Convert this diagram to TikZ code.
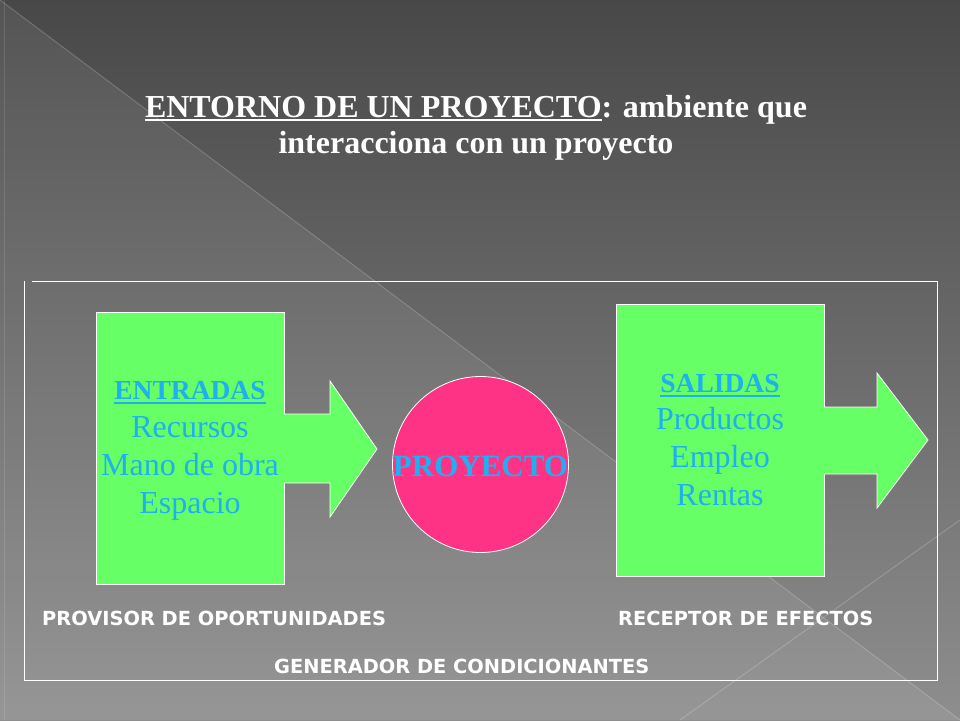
\documentclass[tikz,border=0pt]{standalone}
\usepackage{fontspec}
\setmainfont{Liberation Serif}
\newfontfamily\labfont{DejaVu Sans}
\definecolor{bgtop}{RGB}{72,72,72}
\definecolor{bgbot}{RGB}{142,142,142}
\definecolor{boxgreen}{RGB}{102,255,102}
\definecolor{projpink}{RGB}{255,51,133}
\definecolor{txtblue}{RGB}{30,176,240}
\newcommand\myul[3]{\setbox0\hbox{#3}\rlap{\rule[-#1]{\wd0}{#2}}\box0}
\tikzset{
  titletext/.style={anchor=base, inner sep=0pt, text=white, font=\fontsize{32}{36}\selectfont\bfseries},
  boxhead/.style={anchor=base, inner sep=0pt, text=txtblue, font=\fontsize{27.5}{30}\selectfont\bfseries},
  boxline/.style={anchor=base, inner sep=0pt, text=txtblue, font=\fontsize{32}{36}\selectfont},
  envlabel/.style={anchor=base west, inner sep=0pt, text=white, font=\labfont\fontsize{19.4}{22}\selectfont\bfseries},
  greenbox/.style={draw=white, line width=0.8pt, fill=boxgreen},
  bgline/.style={draw=white, draw opacity=0.22, line width=0.8pt},
}
\begin{document}
\begin{tikzpicture}[x=1pt,y=-1pt]
\useasboundingbox (0,0) rectangle (960,720);
% background
\shade[top color=bgtop, bottom color=bgbot] (0,0) rectangle (960,720);
\fill[white, opacity=0.07] (0,0) -- (960,720) -- (0,720) -- cycle;
\draw[bgline] (0,0) -- (960,720);
\draw[bgline] (680,720) -- (960,520);
\draw[white, opacity=0.12, line width=0.8pt] (4,0) -- (4,720);
% title
\node[titletext] (t1) at (476,117) {\myul{4pt}{2.2pt}{ENTORNO DE UN PROYECTO}: ambiente que};
\node[titletext] (t2) at (476,153) {interacciona con un proyecto};
% frame
\coordinate (fa) at (32,281);
\coordinate (fb) at (937,281);
\coordinate (fc) at (937,680);
\coordinate (fd) at (24,680);
\coordinate (fe) at (24,281);
\draw[white, line width=1pt] (fa) -- (fb) -- (fc) -- (fd) -- (fe);
% input box and arrow
\path[greenbox] (96,312) rectangle (284,584);
\fill[boxgreen] (284,414) -- (330,414) -- (330,381) -- (377,449) -- (330,517) -- (330,483) -- (284,483) -- cycle;
\draw[white, line width=0.8pt, line join=miter] (284,414) -- (330,414) -- (330,381) -- (377,449) -- (330,517) -- (330,483) -- (284,483);
\node[boxhead] (inh) at (190,399) {\myul{5pt}{2pt}{ENTRADAS}};
\node[boxline] (in1) at (190,437) {Recursos};
\node[boxline] (in2) at (190,475) {Mano de obra};
\node[boxline] (in3) at (190,513) {Espacio};
% project circle
\node[circle, draw=white, line width=0.8pt, fill=projpink, minimum size=176pt, inner sep=0pt] (proj) at (480.5,464.5) {};
\node[anchor=base, inner sep=0pt, text=txtblue, font=\fontsize{31}{34}\selectfont\bfseries] (projt) at (480.5,476) {PROYECTO};
% output box and arrow
\path[greenbox] (616,304) rectangle (824,576);
\fill[boxgreen] (824,407) -- (877,407) -- (877,373) -- (928,440) -- (877,508) -- (877,474) -- (824,474) -- cycle;
\draw[white, line width=0.8pt, line join=miter] (824,407) -- (877,407) -- (877,373) -- (928,440) -- (877,508) -- (877,474) -- (824,474);
\node[boxhead] (outh) at (720,392) {\myul{5pt}{2pt}{SALIDAS}};
\node[boxline] (out1) at (720,429) {Productos};
\node[boxline] (out2) at (720,467) {Empleo};
\node[boxline] (out3) at (720,505) {Rentas};
% environment labels
\node[envlabel] (prov) at (42,625) {PROVISOR DE OPORTUNIDADES};
\node[envlabel] (rec) at (618,625) {RECEPTOR DE EFECTOS};
\node[envlabel] (gen) at (274,673) {GENERADOR DE CONDICIONANTES};
\end{tikzpicture}
\end{document}
